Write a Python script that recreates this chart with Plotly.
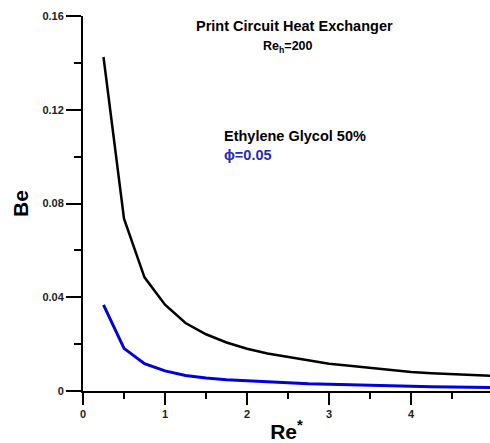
import plotly.graph_objects as go

re_star = [0.25, 0.5, 0.75, 1.0, 1.25, 1.5, 1.75, 2.0, 2.25, 2.5, 2.75, 3.0,
           3.25, 3.5, 3.75, 4.0, 4.25, 4.5, 4.75, 5.0]
be_eg50 = [0.1425, 0.0735, 0.0485, 0.0368, 0.0290, 0.0242, 0.0207, 0.0180,
           0.0160, 0.0145, 0.0130, 0.0116, 0.0108, 0.0098, 0.0089, 0.0081,
           0.0076, 0.0071, 0.0067, 0.0064]
be_phi005 = [0.0367, 0.0182, 0.0117, 0.0086, 0.0066, 0.0055, 0.0048, 0.0043,
             0.0038, 0.0034, 0.0031, 0.0029, 0.0026, 0.0024, 0.0022, 0.0020,
             0.0018, 0.0017, 0.0016, 0.0015]
x_ticks = [0, 1, 2, 3, 4, 5]
y_ticks = [0, 0.04, 0.08, 0.12, 0.16]
y_tick_labels = ["0", "0.04", "0.08", "0.12", "0.16"]

FONT = "Arial, 'Liberation Sans', sans-serif"

fig = go.Figure()
fig.add_trace(go.Scatter(x=re_star, y=be_eg50, mode="lines",
                         line=dict(color="black", width=2.5), showlegend=False))
fig.add_trace(go.Scatter(x=re_star, y=be_phi005, mode="lines",
                         line=dict(color="#0000dd", width=3), showlegend=False))

fig.update_layout(
    width=490, height=443,
    margin=dict(l=83, r=0, t=16, b=52),
    paper_bgcolor="white", plot_bgcolor="white",
    font=dict(family=FONT, color="black"),
    xaxis=dict(range=[0, 4.963], tickvals=x_ticks, showgrid=False, zeroline=False,
               showline=True, linecolor="black", linewidth=2,
               ticks="outside", ticklen=12, tickwidth=2, tickcolor="black",
               minor=dict(ticks="outside", ticklen=6, tickwidth=2, tickcolor="black", dtick=0.5, tick0=0.5),
               tickfont=dict(size=11, family=FONT, weight="bold", color="#222"),
               title=dict(text="Re<sup>*</sup>", font=dict(size=21, family=FONT, weight="bold"), standoff=6)),
    yaxis=dict(range=[0, 0.16], tickvals=y_ticks, ticktext=y_tick_labels, showgrid=False, zeroline=False,
               showline=True, linecolor="black", linewidth=2,
               ticks="outside", ticklen=15, tickwidth=2, tickcolor="black",
               minor=dict(ticks="outside", ticklen=7, tickwidth=2, tickcolor="black", dtick=0.02, tick0=0.02),
               tickfont=dict(size=11, family=FONT, weight="bold", color="#222"),
               title=dict(text="Be", font=dict(size=21, family=FONT, weight="bold"), standoff=8)),
)

anns = [
    dict(text="Print Circuit Heat Exchanger", x=194, y=26, color="black", size=14.5),
    dict(text="Re<sub>h</sub>=200", x=261, y=47, color="black", size=12.5),
    dict(text="Ethylene Glycol 50%", x=222, y=136, color="black", size=14.5),
    dict(text="ϕ=0.05", x=222, y=155, color="#2a2ab8", size=14.5),
]
for a in anns:
    fig.add_annotation(x=(a["x"] - 83) / 407, y=1 - (a["y"] - 16) / 375,
                       xref="paper", yref="paper", xanchor="left", yanchor="middle",
                       text=a["text"], showarrow=False, align="left",
                       font=dict(size=a["size"], family=FONT, weight="bold", color=a["color"]))

fig.write_html("out.html")
